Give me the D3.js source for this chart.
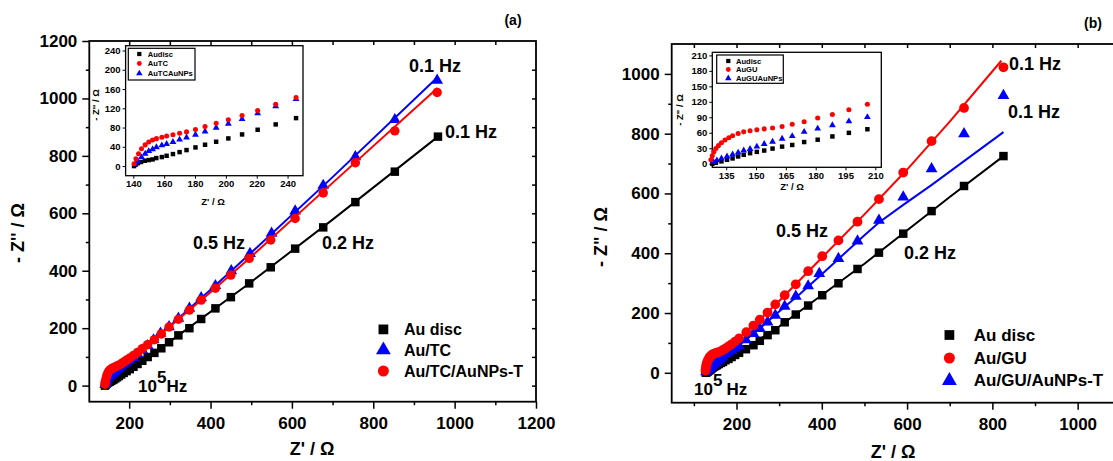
<!DOCTYPE html>
<html>
<head>
<meta charset="utf-8">
<script src="https://cdn.jsdelivr.net/npm/d3@7"></script>
<style>
  body { margin: 0; background: #fff; }
  svg { display: block; }
</style>
</head>
<body>
<svg id="chart" width="1113" height="461"></svg>
<script>
// ---- panel (a) data: Z' (ohm), -Z'' (ohm) ----
var discA = [[140.5,0],[141.5,3],[143,6],[145,8.5],[147.5,11],[150,12.5],[152.5,13.8],[154.9,16.6],[158.5,18.7],[161.6,21.4],[165.7,24.9],[170,29],[174.5,33.2],[180.3,38.7],[186.5,44.3],[193.7,50.5],[201.6,57.4],[210.5,65.7],[220.6,75.4],[232.3,86.5],[245.5,99.6],[262,114],[279,130],[298,151],[321,175],[348,200],[377,232],[412,269],[450,308],[495,356],[548,412],[608,477],[677,551],[756,639],[853,745],[959,867]];
var tcA = [[141.2,3.5],[142.9,10],[145.3,18.7],[147.7,25.6],[150,31],[152.5,35],[155,39],[158.5,43],[161.6,46],[165.7,50],[170,55],[174.5,59.4],[180.3,65],[186.5,71.9],[193.7,79.5],[201.6,87.9],[210.5,97.6],[220.6,109.5],[232.3,124],[245.5,139],[260,159],[277,182],[298,205],[321,234],[348,269],[377,306],[412,348],[451,400],[497,460],[550,530],[608,608],[677,697],[756,797],[853,926],[957,1063]];
var tcNpA = [[140.5,5],[141.7,15],[143.4,25.6],[145.3,36],[147.7,44],[150,50],[152.5,54],[155,57],[158.5,60],[161.6,62.6],[165.7,65],[170,68],[174.5,71],[180.3,76],[186.5,82],[193.7,89],[201.6,96],[210.5,105],[220.6,115.5],[232.3,128.6],[245.5,142.5],[262,160],[279,180],[298,204],[321,231],[348,263],[377,298],[412,339],[450,385],[495,443],[548,507],[608,582],[677,671],[756,776],[853,887],[957,1021]];
var fitDiscA = [[141,0],[160,20],[200,56],[300,153],[500,361],[700,578],[959,867]];
var fitTcA = [[141,2],[150,30],[180,65],[245,139],[300,208],[400,334],[500,463],[700,726],[956,1071]];
var fitTcNpA = [[140,4],[150,50],[180,76],[245,142],[300,206],[400,325],[500,449],[700,706],[958,1036]];

// ---- panel (b) data ----
var discB = [[128,0],[129.8,1.9],[132.6,4.5],[135.4,7.6],[138.2,10.2],[141,14],[143.8,17.2],[147,20.4],[150.4,22.9],[154.1,25.5],[158.3,29.3],[163.1,33.1],[168.2,36.3],[174.2,42],[181,46.5],[188.4,52.8],[196.7,59.8],[206,66.8],[222,79],[239.7,92.4],[254.6,107],[272.8,126],[291,142.5],[313,169],[339,195],[368,225],[401,259.5],[439,299.5],[483.7,347.4],[534,402],[591,465.5],[657.4,541],[733.5,625],[826,725]];
var guB = [[127.3,7.6],[128,15.3],[128.8,23],[129.8,29.3],[131.1,35],[132.6,40.7],[134.4,45.8],[136.3,50.3],[138.2,54.1],[141,58.6],[143.8,61.7],[147,63.7],[150.4,65.6],[154.1,67.5],[158.3,69.4],[163.1,72],[168.2,76.4],[174.2,81.5],[181,88.5],[188.4,95.5],[196.7,104.4],[206,115.2],[223,136],[239.7,158],[254.6,178],[272.8,201.5],[291,229],[313,259.5],[339,296],[368,340],[401,390],[439,443],[483.7,505.6],[534,581],[591,670],[657.4,775],[733.5,886],[826,1022]];
var guNpB = [[128.6,3.2],[130.3,6.4],[132.6,10.2],[135.4,14],[138.2,17.8],[141,21.6],[143.8,25.5],[147,28.6],[150.4,33.1],[154.1,38.2],[158.3,42.6],[163.1,48.4],[168.2,53.5],[174.2,61.7],[181,68.1],[188.4,74.5],[196.7,82.1],[206,90.4],[222,110],[239.7,131],[254.6,148],[272.8,170],[291,192.6],[313,222.7],[339,256],[368,290.6],[394,332],[439,382],[483.7,441],[534,510],[591,588],[657.4,682.6],[733.5,799.6],[826,927.6]];
var fitDiscB = [[128,0],[150,22],[200,62],[300,155],[500,365],[700,588],[826,725]];
var fitGuB = [[127,5],[130,32],[136,50],[150,65],[170,78],[206,115],[250,172],[300,240],[400,385],[500,530],[600,680],[700,840],[821,1044]];
var fitGuNpB = [[128,2],[150,33],[200,85],[250,143],[300,205],[350,265],[400,330],[450,395],[500,460],[534,503],[591,562],[657,628],[826,805]];

// ---- ticks ----
var mainXMajorA = [200, 400, 600, 800, 1000, 1200];
var mainXMajorB = [200, 400, 600, 800, 1000];
var mainXMinorA = [300, 500, 700, 900, 1100];
var mainXMinorB = [100, 300, 500, 700, 900];
var mainYMajorA = [0, 200, 400, 600, 800, 1000, 1200];
var mainYMinorA = [100, 300, 500, 700, 900, 1100];
var mainYMajorB = [0, 200, 400, 600, 800, 1000];
var mainYMinorB = [100, 300, 500, 700, 900];
var mirrorXA = d3.range(200, 1200, 100);
var mirrorYA = d3.range(0, 1200, 100);
var mirrorXB = d3.range(100, 1100, 100);
var insetXMajorA = [140, 160, 180, 200, 220, 240];
var insetYMajorA = [0, 40, 80, 120, 160, 200, 240];
var insetXMajorB = [135, 150, 165, 180, 195, 210];
var insetYMajorB = [0, 30, 60, 90, 120, 150, 180, 210];

var FONT = "'Liberation Sans', Arial, sans-serif";
var BLACK = "#000000", RED = "#ff0000", BLUE = "#0000ff";
var fmt = d3.format("d");

var svg = d3.select("#chart").attr("font-family", FONT).attr("font-weight", "bold");

var translate = function(x, y) { return "translate(" + x + "," + y + ")"; };
var symbolFor = { square: d3.symbolSquare, circle: d3.symbolCircle, triangle: d3.symbolTriangle };

var drawAxes = function(g, x, y, o) {
    var xr = x.range(), yr = y.range();
    if (o.bg) {
        g.append("rect").attr("x", xr[0]).attr("y", yr[1])
            .attr("width", xr[1] - xr[0]).attr("height", yr[0] - yr[1]).attr("fill", "#fff");
    }
    g.append("g").attr("transform", translate(0, yr[0]))
        .call(d3.axisBottom(x).tickValues(o.xMajor).tickFormat(fmt).tickSize(o.tick).tickPadding(o.padX).tickSizeOuter(0));
    g.append("g").attr("transform", translate(xr[0], 0))
        .call(d3.axisLeft(y).tickValues(o.yMajor).tickFormat(fmt).tickSize(o.tick).tickPadding(o.padY).tickSizeOuter(0));
    if (o.xMinor) {
        g.append("g").attr("transform", translate(0, yr[0]))
            .call(d3.axisBottom(x).tickValues(o.xMinor).tickSize(o.tick / 2).tickFormat(""));
    }
    if (o.yMinor) {
        g.append("g").attr("transform", translate(xr[0], 0))
            .call(d3.axisLeft(y).tickValues(o.yMinor).tickSize(o.tick / 2).tickFormat(""));
    }
    if (o.mirrorX) {
        g.append("g").attr("transform", translate(0, yr[1]))
            .call(d3.axisTop(x).tickValues(o.mirrorX).tickSize(-o.mirror).tickFormat(""));
    }
    if (o.mirrorY) {
        g.append("g").attr("transform", translate(xr[1], 0))
            .call(d3.axisRight(y).tickValues(o.mirrorY).tickSize(-o.mirror).tickFormat(""));
    }
    g.selectAll(".domain").remove();
    g.selectAll("g").attr("font-family", FONT).attr("font-size", o.font);
    g.selectAll(".tick line").attr("stroke", BLACK).attr("stroke-width", o.tickW);
    g.selectAll(".tick text").attr("fill", BLACK).attr("font-weight", "bold");
    g.append("rect").attr("x", xr[0]).attr("y", yr[1])
        .attr("width", xr[1] - xr[0]).attr("height", yr[0] - yr[1])
        .attr("fill", "none").attr("stroke", BLACK).attr("stroke-width", o.frameW);
};

var drawMarks = function(g, x, y, pts, shape, color, area) {
    g.append("g").selectAll("path")
        .data(pts)
      .enter()
        .append("path")
        .attr("transform", function(d) { return translate(x(d[0]), y(d[1])); })
        .attr("d", d3.symbol().type(symbolFor[shape]).size(area))
        .attr("fill", color);
};

var drawFit = function(g, x, y, pts, color, w) {
    g.append("path").datum(pts)
        .attr("d", d3.line().x(function(d) { return x(d[0]); }).y(function(d) { return y(d[1]); }))
        .attr("fill", "none").attr("stroke", color).attr("stroke-width", w);
};

var text = function(g, str, x, y, size, anchor, rotate) {
    var t = g.append("text").attr("x", x).attr("y", y).attr("font-size", size)
        .attr("text-anchor", anchor || "start").attr("fill", BLACK).text(str);
    if (rotate) {
        t.attr("transform", "rotate(-90," + x + "," + y + ")").attr("dominant-baseline", "central");
    }
    return t;
};

var drawLegend = function(g, items, mx, tx, ys, size, font) {
    items.forEach(function(it, i) {
        g.append("path").attr("transform", translate(mx, ys[i]))
            .attr("d", d3.symbol().type(symbolFor[it.shape]).size(size)).attr("fill", it.color);
        g.append("text").attr("x", tx).attr("y", ys[i]).attr("dominant-baseline", "central")
            .attr("font-size", font).attr("fill", BLACK).text(it.label);
    });
};

var superHz = function(g, x, y, gap) {
    var t = g.append("text").attr("x", x).attr("y", y).attr("font-size", 17).attr("fill", BLACK);
    t.append("tspan").text("10");
    t.append("tspan").attr("dy", -9).text("5");
    t.append("tspan").attr("dy", 9).attr("dx", gap).text("Hz");
};

var drawPanel = function(p) {
    var g = svg.append("g");
    var x = d3.scaleLinear().domain(p.xDomain).range(p.xRange);
    var y = d3.scaleLinear().domain(p.yDomain).range(p.yRange);
    drawAxes(g, x, y, {
        xMajor: p.xMajor, xMinor: p.xMinor, yMajor: p.yMajor, yMinor: p.yMinor,
        mirrorX: p.mirrorX, mirrorY: p.mirrorY, mirror: 4,
        tick: 7, padX: 8, padY: 5, font: 17, tickW: 1.5, frameW: 1.8
    });
    p.series.forEach(function(s) {
        drawMarks(g, x, y, s.pts, s.shape, s.color, s.area);
        drawFit(g, x, y, s.fit, s.color, 2);
    });
    drawLegend(g, p.legend, p.legendX[0], p.legendX[1], p.legendY, 95, p.legendFont);
    text(g, "Z' / \u03a9", p.xTitle[0], p.xTitle[1], 18, "middle");
    text(g, p.yTitleText, p.yTitle[0], p.yTitle[1], 18, "middle", true);
    text(g, p.tag, p.tagPos[0], p.tagPos[1], 14, "middle");
    p.notes.forEach(function(n) { text(g, n[0], n[1], n[2], 18, "start"); });
    superHz(g, p.hz[0], p.hz[1], p.hz[2]);

    // inset
    var ig = svg.append("g");
    var ix = d3.scaleLinear().domain(p.inset.xDomain).range(p.inset.xRange);
    var iy = d3.scaleLinear().domain(p.inset.yDomain).range(p.inset.yRange);
    drawAxes(ig, ix, iy, {
        bg: true, xMajor: p.inset.xMajor, yMajor: p.inset.yMajor,
        tick: 3, padX: 2, padY: 2, font: 9.5, tickW: 1, frameW: 1.3
    });
    p.series.forEach(function(s) {
        var pts = s.pts.filter(function(d) { return d[0] <= p.inset.xDomain[1]; });
        drawMarks(ig, ix, iy, pts, s.shape, s.color, 20);
    });
    var lb = p.inset.legendBox;
    ig.append("rect").attr("x", lb[0]).attr("y", lb[1]).attr("width", lb[2]).attr("height", lb[3])
        .attr("fill", "#fff").attr("stroke", BLACK).attr("stroke-width", 1.2);
    drawLegend(ig, p.inset.legend, p.inset.legendX[0], p.inset.legendX[1], p.inset.legendY, 18, 7.6);
    text(ig, "Z' / \u03a9", p.inset.xTitle[0], p.inset.xTitle[1], 9.5, "middle");
    text(ig, p.inset.yTitleText, p.inset.yTitle[0], p.inset.yTitle[1], 9.5, "middle", true);
};

drawPanel({
    xDomain: [102, 1200], xRange: [89.3, 536],
    yDomain: [-56, 1200], yRange: [401.7, 41],
    xMajor: mainXMajorA, xMinor: mainXMinorA, yMajor: mainYMajorA, yMinor: mainYMinorA,
    mirrorX: mirrorXA, mirrorY: mirrorYA,
    series: [
        { pts: discA, fit: fitDiscA, shape: "square", color: BLACK, area: 72 },
        { pts: tcA, fit: fitTcA, shape: "triangle", color: BLUE, area: 60 },
        { pts: tcNpA, fit: fitTcNpA, shape: "circle", color: RED, area: 70 }
    ],
    legend: [
        { label: "Au disc", shape: "square", color: BLACK },
        { label: "Au/TC", shape: "triangle", color: BLUE },
        { label: "Au/TC/AuNPs-T", shape: "circle", color: RED }
    ],
    legendX: [383.4, 404], legendY: [329.4, 350, 371], legendFont: 16,
    xTitle: [312, 455], yTitle: [18, 233], yTitleText: "- Z'' / \u03a9",
    tag: "(a)", tagPos: [513, 25],
    notes: [["0.1 Hz", 409, 71.5], ["0.1 Hz", 445, 138], ["0.5 Hz", 193, 249], ["0.2 Hz", 322, 249]],
    hz: [138, 392, 0],
    inset: {
        xDomain: [135, 250], xRange: [125.6, 303],
        yDomain: [-20, 250], yRange: [175.7, 45.7],
        xMajor: insetXMajorA, yMajor: insetYMajorA,
        legendBox: [128.3, 48.3, 66.7, 31.7],
        legend: [
            { label: "Audisc", shape: "square", color: BLACK },
            { label: "AuTC", shape: "circle", color: RED },
            { label: "AuTCAuNPs", shape: "triangle", color: BLUE }
        ],
        legendX: [139.3, 147.7], legendY: [54, 63.5, 73.5],
        xTitle: [213, 205], yTitle: [95, 105], yTitleText: "- Z'' / \u03a9"
    }
});

drawPanel({
    xDomain: [48, 1100], xRange: [671.7, 1120.3],
    yDomain: [-100, 1100], yRange: [402.7, 44],
    xMajor: mainXMajorB, xMinor: mainXMinorB, yMajor: mainYMajorB, yMinor: mainYMinorB,
    mirrorX: mirrorXB, mirrorY: null,
    series: [
        { pts: discB, fit: fitDiscB, shape: "square", color: BLACK, area: 72 },
        { pts: guNpB, fit: fitGuNpB, shape: "triangle", color: BLUE, area: 60 },
        { pts: guB, fit: fitGuB, shape: "circle", color: RED, area: 75 }
    ],
    legend: [
        { label: "Au disc", shape: "square", color: BLACK },
        { label: "Au/GU", shape: "circle", color: RED },
        { label: "Au/GU/AuNPs-T", shape: "triangle", color: BLUE }
    ],
    legendX: [949.4, 973.8], legendY: [335, 358, 380.6], legendFont: 17,
    xTitle: [893, 458], yTitle: [601, 237], yTitleText: "- Z\" / \u03a9",
    tag: "(b)", tagPos: [1093, 28],
    notes: [["0.1 Hz", 1009, 69.5], ["0.1 Hz", 1008, 118], ["0.5 Hz", 776, 236.5], ["0.2 Hz", 904, 259]],
    hz: [694, 395, 4],
    inset: {
        xDomain: [128, 213], xRange: [712.3, 881.3],
        yDomain: [-7, 216], yRange: [167.3, 52.3],
        xMajor: insetXMajorB, yMajor: insetYMajorB,
        legendBox: [716.7, 55, 66.6, 28.3],
        legend: [
            { label: "Audisc", shape: "square", color: BLACK },
            { label: "AuGU", shape: "circle", color: RED },
            { label: "AuGUAuNPs", shape: "triangle", color: BLUE }
        ],
        legendX: [728.3, 736], legendY: [61, 69.5, 78.3],
        xTitle: [792, 190], yTitle: [679, 110], yTitleText: "- Z\" / \u03a9"
    }
});
</script>
</body>
</html>
